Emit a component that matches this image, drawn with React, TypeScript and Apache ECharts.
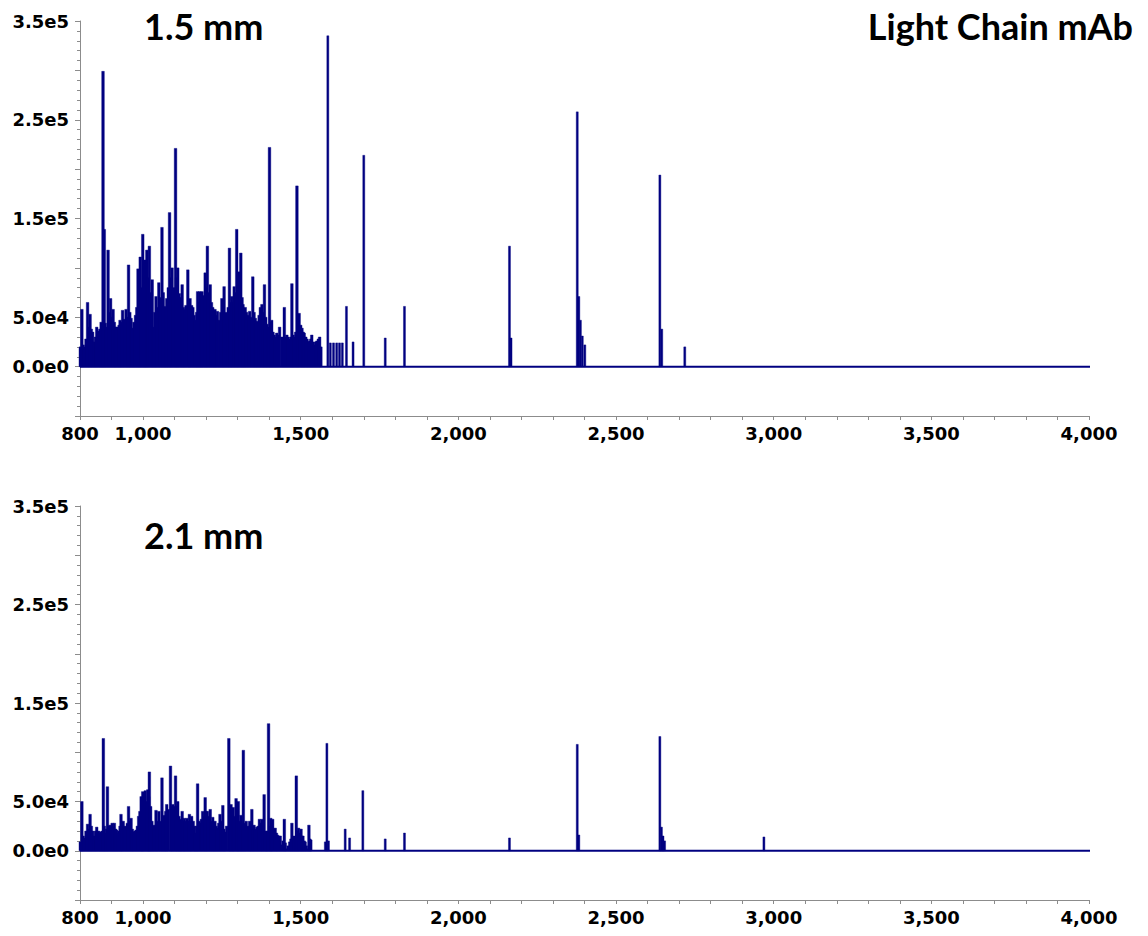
import React, { useEffect, useRef } from "react";
import * as echarts from "echarts";

// ---- Data (m/z, intensity) ----
// Top panel (1.5 mm): dense peak cluster
const topClusterMz = [
  801, 803, 806, 810, 814, 819, 824, 828, 832, 836, 840, 845, 849, 853, 859, 863, 867, 870, 873, 877,
  880, 884, 889, 893, 897, 901, 905, 909, 912, 916, 920, 924, 927, 931, 935, 940, 946, 950, 954, 958,
  962, 967, 971, 976, 980, 984, 988, 991, 995, 999, 1003, 1006, 1009, 1012, 1016, 1020, 1025, 1029, 1033, 1037,
  1041, 1045, 1050, 1055, 1060, 1064, 1068, 1072, 1075, 1080, 1084, 1088, 1092, 1097, 1103, 1106, 1110, 1115, 1120, 1124,
  1128, 1131, 1136, 1142, 1146, 1149, 1154, 1158, 1162, 1166, 1170, 1173, 1177, 1180, 1184, 1187, 1192, 1197, 1200, 1204,
  1208, 1213, 1217, 1221, 1225, 1228, 1232, 1236, 1242, 1246, 1250, 1254, 1257, 1262, 1266, 1270, 1274, 1278, 1281, 1285,
  1289, 1293, 1297, 1301, 1305, 1310, 1314, 1317, 1321, 1324, 1328, 1333, 1338, 1343, 1348, 1352, 1356, 1360, 1363, 1368,
  1372, 1377, 1381, 1385, 1389, 1393, 1397, 1401, 1405, 1408, 1412, 1416, 1420, 1424, 1428, 1433, 1440, 1444, 1448, 1452,
  1456, 1460, 1465, 1469, 1472, 1476, 1479, 1484, 1488, 1491, 1495, 1500, 1504, 1508, 1511, 1516, 1520, 1524, 1528, 1532,
  1535, 1539, 1543, 1547, 1551, 1556, 1560, 1564,
];
const topClusterInt = [
  20000, 18000, 58000, 22000, 20000, 28000, 65000, 40000, 53000, 38000, 35000, 25000, 30000, 40000, 36000, 38000, 45000, 40000, 299000, 139000,
  44000, 40000, 118000, 55000, 69000, 50000, 58000, 45000, 40000, 40000, 40000, 42000, 47000, 45000, 57000, 48000, 58000, 50000, 103000, 55000,
  49000, 39000, 45000, 52000, 60000, 99000, 70000, 111000, 80000, 134000, 90000, 108000, 85000, 118000, 90000, 122000, 75000, 88000, 40000, 55000,
  71000, 60000, 85000, 70000, 141000, 75000, 61000, 60000, 69000, 80000, 156000, 90000, 100000, 80000, 221000, 90000, 100000, 74000, 70000, 83000,
  60000, 58000, 62000, 98000, 65000, 69000, 62000, 60000, 52000, 47000, 55000, 76000, 65000, 76000, 70000, 76000, 72000, 95000, 80000, 122000,
  75000, 83000, 65000, 60000, 55000, 58000, 52000, 56000, 47000, 55000, 69000, 60000, 81000, 55000, 43000, 60000, 120000, 65000, 71000, 65000,
  81000, 75000, 139000, 85000, 96000, 115000, 70000, 63000, 55000, 60000, 55000, 52000, 56000, 50000, 91000, 55000, 49000, 46000, 45000, 52000,
  60000, 63000, 55000, 83000, 50000, 43000, 40000, 222000, 45000, 47000, 35000, 32000, 30000, 34000, 32000, 40000, 30000, 28000, 60000, 30000,
  32000, 30000, 28000, 30000, 84000, 32000, 30000, 35000, 183000, 50000, 54000, 42000, 39000, 35000, 34000, 30000, 28000, 25000, 26000, 28000,
  32000, 25000, 22000, 25000, 26000, 28000, 30000, 20000,
];
// Top panel: isolated peaks
const topPeakMz = [1586, 1594, 1604, 1614, 1623, 1632, 1645, 1666, 1700, 1768, 1829, 2162, 2167, 2377, 2382, 2387, 2393, 2401, 2639, 2645, 2718];
const topPeakInt = [335000, 24000, 24000, 24000, 24000, 24000, 61000, 25000, 214000, 29000, 61000, 122000, 29000, 258000, 71000, 47000, 31000, 22000, 194000, 38000, 20000];

// Bottom panel (2.1 mm): dense peak cluster
const botClusterMz = [
  801, 804, 806, 810, 814, 819, 824, 828, 832, 836, 840, 845, 849, 853, 859, 863, 867, 870, 874, 877,
  880, 884, 887, 891, 895, 899, 902, 906, 909, 913, 916, 920, 923, 927, 930, 934, 937, 942, 946, 950,
  954, 958, 962, 966, 969, 974, 978, 982, 986, 990, 994, 997, 999, 1003, 1007, 1011, 1015, 1018, 1020, 1024,
  1028, 1032, 1036, 1041, 1045, 1050, 1055, 1060, 1064, 1068, 1072, 1075, 1080, 1087, 1090, 1094, 1098, 1103, 1106, 1110,
  1114, 1117, 1120, 1124, 1128, 1131, 1135, 1139, 1143, 1147, 1151, 1154, 1159, 1163, 1166, 1170, 1173, 1177, 1181, 1185,
  1189, 1193, 1197, 1200, 1204, 1208, 1213, 1217, 1221, 1225, 1228, 1232, 1236, 1240, 1244, 1248, 1253, 1256, 1260, 1265,
  1272, 1275, 1279, 1283, 1286, 1290, 1295, 1299, 1302, 1306, 1310, 1314, 1318, 1322, 1327, 1332, 1338, 1341, 1345, 1349,
  1352, 1357, 1361, 1365, 1369, 1373, 1377, 1380, 1384, 1388, 1391, 1394, 1398, 1402, 1405, 1408, 1411, 1415, 1419, 1423,
  1426, 1431, 1435, 1440, 1444, 1448, 1451, 1454, 1460, 1465, 1469, 1472, 1476, 1479, 1483, 1486, 1490, 1493, 1497, 1501,
  1504, 1507, 1511, 1514, 1518, 1522, 1526, 1529, 1532,
];
const botClusterInt = [
  9000, 8000, 50000, 15000, 13000, 20000, 27000, 22000, 37000, 25000, 20000, 15000, 20000, 24000, 20000, 18000, 19000, 20000, 114000, 25000,
  18000, 22000, 65000, 25000, 26000, 22000, 28000, 24000, 28000, 22000, 21000, 18000, 20000, 25000, 37000, 28000, 30000, 25000, 23000, 28000,
  45000, 30000, 33000, 22000, 19000, 20000, 21000, 25000, 35000, 40000, 55000, 50000, 60000, 45000, 61000, 50000, 62000, 55000, 80000, 45000,
  30000, 25000, 26000, 41000, 30000, 40000, 30000, 74000, 35000, 36000, 40000, 47000, 42000, 86000, 45000, 47000, 45000, 76000, 45000, 50000,
  35000, 30000, 32000, 40000, 30000, 33000, 30000, 33000, 30000, 37000, 30000, 35000, 30000, 25000, 18000, 25000, 68000, 30000, 28000, 32000,
  40000, 35000, 54000, 40000, 40000, 35000, 42000, 30000, 34000, 28000, 30000, 25000, 23000, 28000, 37000, 30000, 46000, 22000, 19000, 25000,
  114000, 35000, 47000, 35000, 44000, 35000, 53000, 40000, 50000, 30000, 36000, 28000, 102000, 28000, 30000, 25000, 30000, 28000, 42000, 25000,
  26000, 22000, 24000, 25000, 32000, 28000, 32000, 25000, 57000, 20000, 18000, 20000, 129000, 25000, 33000, 25000, 32000, 22000, 23000, 18000,
  16000, 15000, 15000, 6000, 10000, 32000, 8000, 2000, 5000, 9000, 12000, 28000, 12000, 15000, 12000, 76000, 20000, 23000, 18000, 22000,
  15000, 15000, 10000, 9000, 5000, 2000, 26000, 12000, 11000,
];
// Bottom panel: isolated peaks
const botPeakMz = [1578, 1583, 1588, 1641, 1655, 1697, 1768, 1829, 2162, 2377, 2382, 2639, 2644, 2649, 2654, 2969];
const botPeakInt = [9000, 109000, 10000, 22000, 13000, 61000, 12000, 18000, 13000, 108000, 16000, 116000, 24000, 15000, 10000, 14000];

// Axis settings
const xRange = [800, 4000];
const xTickStep = 100;
const xLabelValues = [800, 1000, 1500, 2000, 2500, 3000, 3500, 4000];
const yRange = [-50000, 350000];
const yTickStep = 50000;
const yLabelValues = [0, 50000, 150000, 250000, 350000];
const baselineRange = [800, 4040];

const panelTitles = ["1.5 mm", "2.1 mm"];
const chartTitle = "Light Chain mAb";

const NAVY = "#000080";
const AXIS_GRAY = "#8c8c8c";
const LABEL_FONT = "DejaVu Sans";

function pairs(mz: number[], it: number[]) {
  return mz.map((m, i) => [m, it[i]]);
}

function fmtY(v: number) {
  if (!yLabelValues.some((t) => Math.abs(t - v) < 1)) return "";
  return v.toExponential(1).replace("e+", "e");
}

function fmtX(v: number) {
  if (!xLabelValues.includes(Math.round(v))) return "";
  return Math.round(v).toLocaleString("en-US");
}

function stickRenderer(width: number) {
  return (params: any, api: any) => {
    const x = api.value(0);
    const y = api.value(1);
    const top = api.coord([x, y]);
    const base = api.coord([x, 0]);
    return {
      type: "rect",
      shape: {
        x: top[0] - width / 2,
        y: top[1],
        width,
        height: base[1] - top[1],
      },
      style: { fill: NAVY, stroke: NAVY, lineWidth: 0.4 },
    };
  };
}

export default function App() {
  const ref = useRef<HTMLDivElement>(null);

  useEffect(() => {
    if (!ref.current) return;
    const chart = echarts.init(ref.current, undefined, { renderer: "svg" });

    const grids = [
      { left: 80, right: 59, top: 21, height: 395 },
      { left: 80, right: 59, top: 506, height: 394 },
    ];

    const xAxis = grids.map((_, i) => ({
      type: "value",
      gridIndex: i,
      min: xRange[0],
      max: xRange[1],
      interval: xTickStep,
      axisLine: { show: true, onZero: false, lineStyle: { color: AXIS_GRAY, width: 1 } },
      axisTick: { show: true, length: 4, lineStyle: { color: AXIS_GRAY } },
      splitLine: { show: false },
      axisLabel: {
        formatter: fmtX,
        color: "#000",
        fontFamily: LABEL_FONT,
        fontWeight: "bold",
        fontSize: 18,
        margin: 8,
        showMinLabel: true,
        showMaxLabel: true,
      },
    }));

    const yAxis = grids.map((_, i) => ({
      type: "value",
      gridIndex: i,
      min: yRange[0],
      max: yRange[1],
      interval: yTickStep,
      axisLine: { show: true, onZero: false, lineStyle: { color: AXIS_GRAY, width: 1 } },
      axisTick: { show: true, length: 5, lineStyle: { color: AXIS_GRAY } },
      minorTick: { show: true, splitNumber: 5, length: 3, lineStyle: { color: AXIS_GRAY } },
      splitLine: { show: false },
      axisLabel: {
        formatter: fmtY,
        color: "#000",
        fontFamily: LABEL_FONT,
        fontWeight: "bold",
        fontSize: 18,
        margin: 11,
        showMinLabel: true,
        showMaxLabel: true,
      },
    }));

    const clusters = [pairs(topClusterMz, topClusterInt), pairs(botClusterMz, botClusterInt)];
    const peaks = [pairs(topPeakMz, topPeakInt), pairs(botPeakMz, botPeakInt)];

    const series: any[] = [];
    [0, 1].forEach((i) => {
      series.push({
        type: "line",
        xAxisIndex: i,
        yAxisIndex: i,
        data: [
          [baselineRange[0], 0],
          [baselineRange[1], 0],
        ],
        showSymbol: false,
        clip: false,
        lineStyle: { color: NAVY, width: 2 },
        z: 3,
      });
      series.push({
        type: "custom",
        xAxisIndex: i,
        yAxisIndex: i,
        data: clusters[i],
        encode: { x: 0, y: 1 },
        renderItem: stickRenderer(2.6),
        z: 2,
      });
      series.push({
        type: "custom",
        xAxisIndex: i,
        yAxisIndex: i,
        data: peaks[i],
        encode: { x: 0, y: 1 },
        renderItem: stickRenderer(2.0),
        z: 2,
      });
    });

    chart.setOption({
      animation: false,
      backgroundColor: "#fff",
      grid: grids,
      xAxis,
      yAxis,
      series,
      graphic: [
        {
          type: "text",
          left: 144,
          top: 8,
          style: { text: panelTitles[0], font: "bold 36px Lato", fill: "#000" },
        },
        {
          type: "text",
          left: 144,
          top: 517,
          style: { text: panelTitles[1], font: "bold 36px Lato", fill: "#000" },
        },
        {
          type: "text",
          right: 15,
          top: 8,
          style: { text: chartTitle, font: "bold 36px Lato", fill: "#000" },
        },
      ],
    });

    return () => chart.dispose();
  }, []);

  return (
    <div
      ref={ref}
      style={{ position: "fixed", left: 0, top: 0, width: 1148, height: 936, background: "#fff" }}
    />
  );
}
